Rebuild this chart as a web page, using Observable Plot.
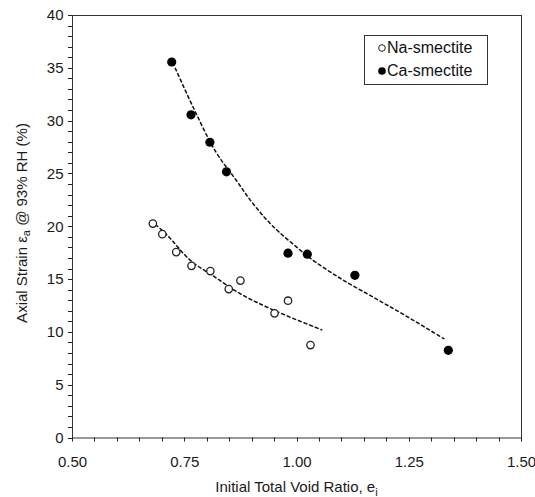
<!DOCTYPE html>
<html>
<head>
<meta charset="utf-8">
<script src="https://cdn.jsdelivr.net/npm/d3@7"></script>
<script src="https://cdn.jsdelivr.net/npm/@observablehq/plot@0.6"></script>
<style>
  html, body { margin: 0; padding: 0; background: white; }
  #wrap { position: relative; width: 535px; height: 497px; font-family: "Liberation Sans", Arial, sans-serif; }
  #legend { position: absolute; left: 364px; top: 35px; width: 122px; height: 48px; border: 1px solid #333; background: white; font-size: 16px; color: #111; }
  #legend .row { position: absolute; left: 0; height: 20px; line-height: 20px; white-space: nowrap; }
  #legend svg { position: absolute; left: 12px; top: 5px; }
  #legend span { position: absolute; left: 22px; top: 0; }
</style>
</head>
<body>
<div id="wrap"></div>
<script>
// Na-smectite measured points
const naX = [0.679, 0.700, 0.731, 0.765, 0.807, 0.848, 0.874, 0.950, 0.980, 1.030];
const naY = [20.3, 19.3, 17.6, 16.3, 15.8, 14.1, 14.9, 11.8, 13.0, 8.8];
// Ca-smectite measured points
const caX = [0.721, 0.764, 0.806, 0.843, 0.980, 1.023, 1.129, 1.337];
const caY = [35.6, 30.6, 28.0, 25.2, 17.5, 17.4, 15.4, 8.3];
// dashed trend curves
const naTrendX = [0.685, 0.711, 0.763, 0.815, 0.874, 0.948, 1.055];
const naTrendY = [20.2, 19.2, 16.8, 15.3, 13.65, 12.1, 10.25];
const caTrendX = [0.729, 0.770, 0.819, 0.863, 0.900, 0.945, 1.004, 1.030, 1.097, 1.171, 1.245, 1.327];
const caTrendY = [35.0, 31.2, 27.1, 24.5, 22.3, 20.1, 17.9, 17.0, 15.1, 13.3, 11.5, 9.4];
// ticks
const xMinorTicks = d3.range(10, 31).map(d => d / 20);
const xLabelTicks = [0.5, 0.75, 1.0, 1.25, 1.5];
const yMinorTicks = d3.range(0, 41);
const yLabelTicks = [0, 5, 10, 15, 20, 25, 30, 35, 40];
const legendLabels = ["Na-smectite", "Ca-smectite"];

const na = naX.map((x, i) => ({x, y: naY[i]}));
const ca = caX.map((x, i) => ({x, y: caY[i]}));
const naT = naTrendX.map((x, i) => ({x, y: naTrendY[i]}));
const caT = caTrendX.map((x, i) => ({x, y: caTrendY[i]}));

const chart = Plot.plot({
  width: 535,
  height: 497,
  marginLeft: 72,
  marginRight: 14,
  marginTop: 15,
  marginBottom: 59.5,
  style: {fontFamily: "'Liberation Sans', Arial, sans-serif", fontSize: "15px", color: "#1a1a1a", background: "white", overflow: "visible"},
  x: {domain: [0.5, 1.5], label: null},
  y: {domain: [0, 40], label: null},
  marks: [
    Plot.axisX(xLabelTicks, {tickSize: 0, tickPadding: 18, tickFormat: d3.format(".2f"), fontSize: 15}),
    Plot.axisY(yLabelTicks, {tickSize: 0, tickPadding: 9, fontSize: 15}),
    Plot.frame({stroke: "#333", strokeWidth: 1}),
    Plot.line(naT, {x: "x", y: "y", curve: "catmull-rom", stroke: "#111", strokeWidth: 1.5, strokeDasharray: "3,3"}),
    Plot.line(caT, {x: "x", y: "y", curve: "catmull-rom", stroke: "#111", strokeWidth: 1.5, strokeDasharray: "3,3"}),
    Plot.dot(na, {x: "x", y: "y", r: 3.7, stroke: "#222", strokeWidth: 1.3, fill: "white"}),
    Plot.dot(ca, {x: "x", y: "y", r: 4.6, fill: "#000", stroke: "none"})
  ]
});

const wrap = document.getElementById("wrap");
wrap.appendChild(chart);

const svg = d3.select(chart);
const sx = chart.scale("x");
const sy = chart.scale("y");
const x0 = sx.apply(xLabelTicks[0]);
const y0 = sy.apply(yLabelTicks[0]);

// minor tick marks, positioned through Plot's own scales
const tg = svg.append("g").attr("stroke", "#222").attr("stroke-width", 1);
tg.selectAll("line.tx").data(xMinorTicks).join("line").attr("class", "tx")
  .attr("x1", d => Math.round(sx.apply(d)) + 0.5).attr("x2", d => Math.round(sx.apply(d)) + 0.5)
  .attr("y1", y0).attr("y2", y0 + 4);
tg.selectAll("line.ty").data(yMinorTicks).join("line").attr("class", "ty")
  .attr("y1", d => Math.round(sy.apply(d)) + 0.5).attr("y2", d => Math.round(sy.apply(d)) + 0.5)
  .attr("x1", x0 - 4).attr("x2", x0);

// x axis title
const xt = svg.append("text")
  .attr("x", (sx.range[0] + sx.range[1]) / 2).attr("y", 492)
  .attr("text-anchor", "middle")
  .attr("font-size", 15).attr("fill", "#1a1a1a");
xt.append("tspan").text("Initial Total Void Ratio, e");
xt.append("tspan").attr("font-size", 11).attr("dy", 4).text("i");
// y axis title
const yt = svg.append("text")
  .attr("transform", "translate(27,223) rotate(-90)")
  .attr("text-anchor", "middle")
  .attr("font-size", 15).attr("fill", "#1a1a1a");
yt.append("tspan").text("Axial Strain ε");
yt.append("tspan").attr("font-size", 11).attr("dy", 3).text("a");
yt.append("tspan").attr("dy", -3).text(" @ 93% RH (%)");

// legend
const lg = document.createElement("div");
lg.id = "legend";
lg.innerHTML = `
  <div class="row" style="top:2px;width:122px"><svg width="10" height="10"><circle cx="5" cy="5" r="3.3" fill="white" stroke="#222" stroke-width="1"/></svg><span>${legendLabels[0]}</span></div>
  <div class="row" style="top:25px;width:122px"><svg width="10" height="10"><circle cx="5" cy="5" r="3.8" fill="#000"/></svg><span>${legendLabels[1]}</span></div>`;
wrap.appendChild(lg);
</script>
</body>
</html>
